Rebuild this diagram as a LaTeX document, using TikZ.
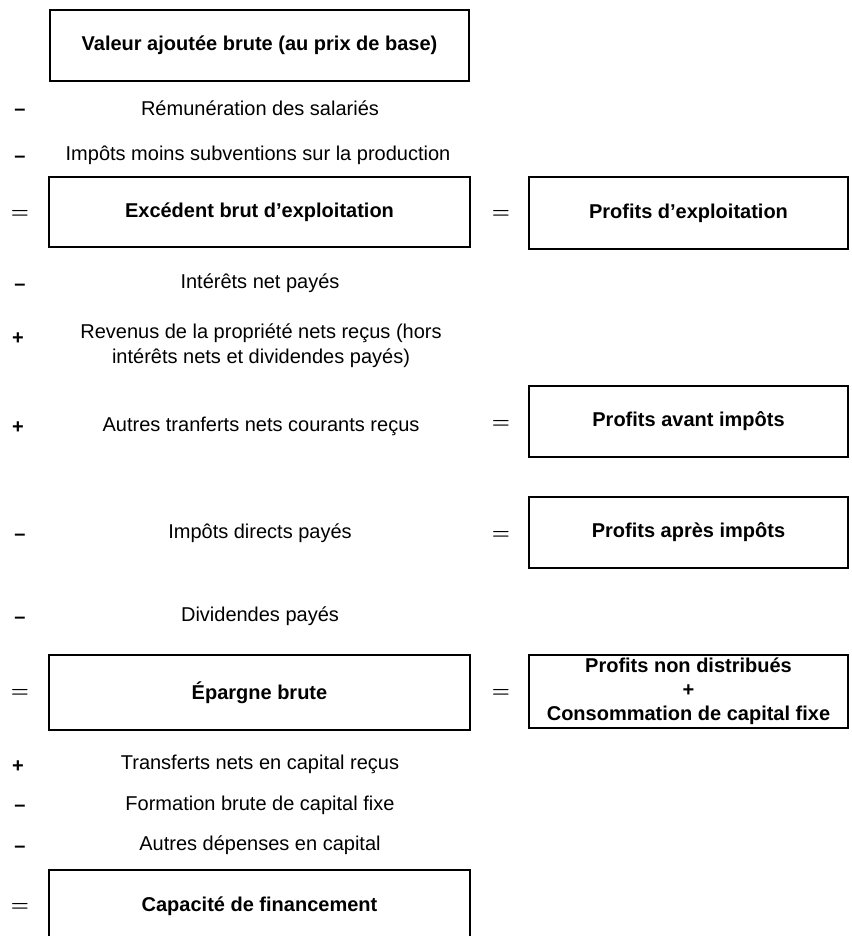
\documentclass[tikz,border=0pt]{standalone}
\usepackage{fontspec}
\setmainfont{Liberation Sans}
\begin{document}
\begin{tikzpicture}[x=1pt,y=-1pt,
  every node/.style={inner sep=0pt,outer sep=0pt,font=\fontsize{20}{25}\selectfont},
  bx/.style={draw,line width=1.7pt,font=\fontsize{20}{25}\selectfont\bfseries,align=center},
  lbl/.style={align=center,font=\fontsize{20}{25}\selectfont},
  sgn/.style={font=\fontsize{20}{25}\selectfont\bfseries},
  eqs/.style={font=\fontsize{20}{25}\selectfont\boldmath}]
\useasboundingbox (0,0) rectangle (851,936);
% left column boxes
\node[bx,minimum width=419pt,minimum height=71pt] (vab) at (259.5,45.5) {Valeur ajoutée brute (au prix de base)};
\node[sgn] (m1) at (20,112) {–};
\node[lbl] (t1) at (260,108) {Rémunération des salariés};
\node[sgn] (m2) at (20,159) {–};
\node[lbl] (t2) at (258,155) {Impôts moins subventions sur la production};
\node[eqs] (e1) at (20,214) {$=$};
\node[bx,minimum width=421pt,minimum height=70pt] (ebe) at (259.5,212) {Excédent brut d'exploitation};
\node[eqs] (e2) at (501,214) {$=$};
\node[bx,minimum width=319pt,minimum height=72pt] (pe) at (688.5,213) {Profits d'exploitation};
\node[sgn] (m3) at (20,287) {–};
\node[lbl] (t3) at (260,283) {Intérêts net payés};
\node[sgn] (p1) at (18,339) {+};
\node[lbl] (t4) at (261,346) {Revenus de la propriété nets reçus (hors\\intérêts nets et dividendes payés)};
\node[sgn] (p2) at (18,428) {+};
\node[lbl] (t5) at (261,426) {Autres tranferts nets courants reçus};
\node[eqs] (e3) at (501,424) {$=$};
\node[bx,minimum width=319pt,minimum height=71pt] (pai) at (688.5,421.5) {Profits avant impôts};
\node[sgn] (m4) at (20,537) {–};
\node[lbl] (t6) at (260,533) {Impôts directs payés};
\node[eqs] (e4) at (501,535) {$=$};
\node[bx,minimum width=319pt,minimum height=71pt] (ppi) at (688.5,532.5) {Profits après impôts};
\node[sgn] (m5) at (20,620) {–};
\node[lbl] (t7) at (260,616) {Dividendes payés};
\node[eqs] (e5) at (20,693) {$=$};
\node[bx,minimum width=421pt,minimum height=75pt] (eb) at (259.5,692.5) {Épargne brute};
\node[eqs] (e6) at (501,693) {$=$};
\node[bx,minimum width=319pt,minimum height=73pt] (pnd) at (688.5,691.5) {Profits non distribués\\[-1pt]+\\[-1pt]Consommation de capital fixe};
\node[sgn] (p3) at (18,767) {+};
\node[lbl] (t8) at (260,764) {Transferts nets en capital reçus};
\node[sgn] (m6) at (20,808) {–};
\node[lbl] (t9) at (260,805) {Formation brute de capital fixe};
\node[sgn] (m7) at (20,849) {–};
\node[lbl] (t10) at (260,845) {Autres dépenses en capital};
\node[eqs] (e7) at (20,907) {$=$};
\node[bx,minimum width=421pt,minimum height=72pt] (cf) at (259.5,906) {Capacité de financement};
\end{tikzpicture}
\end{document}
